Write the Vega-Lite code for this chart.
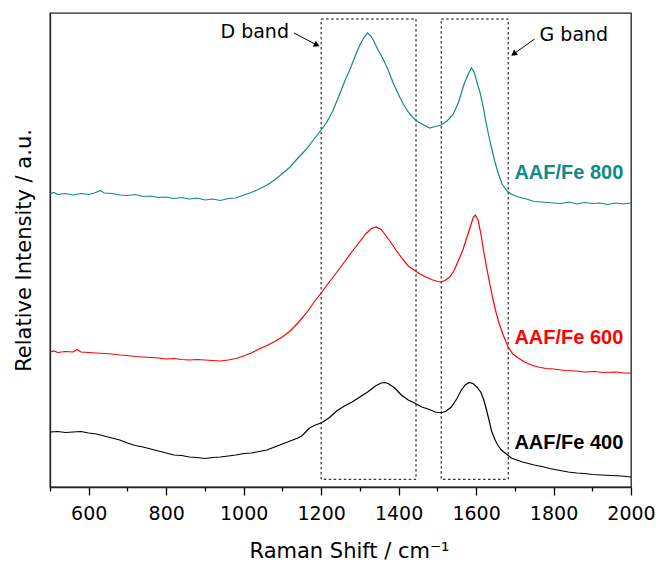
{
  "$schema": "https://vega.github.io/schema/vega-lite/v6.json",
  "width": 581,
  "height": 474,
  "autosize": "none",
  "padding": {"left": 50, "top": 13, "right": 28, "bottom": 75},
  "config": {
    "view": {"stroke": "#222222", "strokeWidth": 1.3},
    "font": "DejaVu Sans"
  },
  "resolve": {"axis": {"x": "independent"}},
  "datasets": {
    "spectra": [
      {"shift": 500, "intensity": 293, "sample": "AAF/Fe 800"},
      {"shift": 510, "intensity": 294.5, "sample": "AAF/Fe 800"},
      {"shift": 520, "intensity": 292.5, "sample": "AAF/Fe 800"},
      {"shift": 540, "intensity": 293.5, "sample": "AAF/Fe 800"},
      {"shift": 560, "intensity": 292, "sample": "AAF/Fe 800"},
      {"shift": 580, "intensity": 293.5, "sample": "AAF/Fe 800"},
      {"shift": 600, "intensity": 292.5, "sample": "AAF/Fe 800"},
      {"shift": 615, "intensity": 294, "sample": "AAF/Fe 800"},
      {"shift": 630, "intensity": 296.5, "sample": "AAF/Fe 800"},
      {"shift": 640, "intensity": 294, "sample": "AAF/Fe 800"},
      {"shift": 660, "intensity": 293.5, "sample": "AAF/Fe 800"},
      {"shift": 680, "intensity": 292, "sample": "AAF/Fe 800"},
      {"shift": 700, "intensity": 291.5, "sample": "AAF/Fe 800"},
      {"shift": 720, "intensity": 292.5, "sample": "AAF/Fe 800"},
      {"shift": 740, "intensity": 290.5, "sample": "AAF/Fe 800"},
      {"shift": 760, "intensity": 291, "sample": "AAF/Fe 800"},
      {"shift": 780, "intensity": 289.5, "sample": "AAF/Fe 800"},
      {"shift": 800, "intensity": 290, "sample": "AAF/Fe 800"},
      {"shift": 820, "intensity": 288.5, "sample": "AAF/Fe 800"},
      {"shift": 840, "intensity": 289.5, "sample": "AAF/Fe 800"},
      {"shift": 860, "intensity": 288, "sample": "AAF/Fe 800"},
      {"shift": 880, "intensity": 289, "sample": "AAF/Fe 800"},
      {"shift": 900, "intensity": 287, "sample": "AAF/Fe 800"},
      {"shift": 920, "intensity": 288, "sample": "AAF/Fe 800"},
      {"shift": 940, "intensity": 286.5, "sample": "AAF/Fe 800"},
      {"shift": 960, "intensity": 288.5, "sample": "AAF/Fe 800"},
      {"shift": 980, "intensity": 289, "sample": "AAF/Fe 800"},
      {"shift": 1000, "intensity": 292, "sample": "AAF/Fe 800"},
      {"shift": 1020, "intensity": 294.5, "sample": "AAF/Fe 800"},
      {"shift": 1040, "intensity": 298, "sample": "AAF/Fe 800"},
      {"shift": 1060, "intensity": 302, "sample": "AAF/Fe 800"},
      {"shift": 1080, "intensity": 307, "sample": "AAF/Fe 800"},
      {"shift": 1100, "intensity": 313.5, "sample": "AAF/Fe 800"},
      {"shift": 1120, "intensity": 320, "sample": "AAF/Fe 800"},
      {"shift": 1140, "intensity": 329, "sample": "AAF/Fe 800"},
      {"shift": 1160, "intensity": 337, "sample": "AAF/Fe 800"},
      {"shift": 1180, "intensity": 347, "sample": "AAF/Fe 800"},
      {"shift": 1200, "intensity": 357, "sample": "AAF/Fe 800"},
      {"shift": 1215, "intensity": 365, "sample": "AAF/Fe 800"},
      {"shift": 1230, "intensity": 376, "sample": "AAF/Fe 800"},
      {"shift": 1245, "intensity": 390, "sample": "AAF/Fe 800"},
      {"shift": 1260, "intensity": 405, "sample": "AAF/Fe 800"},
      {"shift": 1275, "intensity": 418, "sample": "AAF/Fe 800"},
      {"shift": 1290, "intensity": 433, "sample": "AAF/Fe 800"},
      {"shift": 1300, "intensity": 442, "sample": "AAF/Fe 800"},
      {"shift": 1310, "intensity": 449, "sample": "AAF/Fe 800"},
      {"shift": 1320, "intensity": 454, "sample": "AAF/Fe 800"},
      {"shift": 1328, "intensity": 451, "sample": "AAF/Fe 800"},
      {"shift": 1336, "intensity": 446, "sample": "AAF/Fe 800"},
      {"shift": 1347, "intensity": 437, "sample": "AAF/Fe 800"},
      {"shift": 1360, "intensity": 428, "sample": "AAF/Fe 800"},
      {"shift": 1373, "intensity": 417, "sample": "AAF/Fe 800"},
      {"shift": 1386, "intensity": 404, "sample": "AAF/Fe 800"},
      {"shift": 1399, "intensity": 393, "sample": "AAF/Fe 800"},
      {"shift": 1412, "intensity": 383, "sample": "AAF/Fe 800"},
      {"shift": 1425, "intensity": 375, "sample": "AAF/Fe 800"},
      {"shift": 1438, "intensity": 369, "sample": "AAF/Fe 800"},
      {"shift": 1451, "intensity": 365, "sample": "AAF/Fe 800"},
      {"shift": 1465, "intensity": 362, "sample": "AAF/Fe 800"},
      {"shift": 1480, "intensity": 359, "sample": "AAF/Fe 800"},
      {"shift": 1495, "intensity": 360.5, "sample": "AAF/Fe 800"},
      {"shift": 1510, "intensity": 362, "sample": "AAF/Fe 800"},
      {"shift": 1525, "intensity": 366, "sample": "AAF/Fe 800"},
      {"shift": 1540, "intensity": 372, "sample": "AAF/Fe 800"},
      {"shift": 1554, "intensity": 384, "sample": "AAF/Fe 800"},
      {"shift": 1562, "intensity": 394, "sample": "AAF/Fe 800"},
      {"shift": 1570, "intensity": 404, "sample": "AAF/Fe 800"},
      {"shift": 1580, "intensity": 413, "sample": "AAF/Fe 800"},
      {"shift": 1588, "intensity": 419, "sample": "AAF/Fe 800"},
      {"shift": 1595, "intensity": 415, "sample": "AAF/Fe 800"},
      {"shift": 1602, "intensity": 405, "sample": "AAF/Fe 800"},
      {"shift": 1610, "intensity": 395, "sample": "AAF/Fe 800"},
      {"shift": 1618, "intensity": 381, "sample": "AAF/Fe 800"},
      {"shift": 1626, "intensity": 364, "sample": "AAF/Fe 800"},
      {"shift": 1633, "intensity": 351, "sample": "AAF/Fe 800"},
      {"shift": 1640, "intensity": 339, "sample": "AAF/Fe 800"},
      {"shift": 1648, "intensity": 326, "sample": "AAF/Fe 800"},
      {"shift": 1657, "intensity": 314, "sample": "AAF/Fe 800"},
      {"shift": 1667, "intensity": 303, "sample": "AAF/Fe 800"},
      {"shift": 1678, "intensity": 297, "sample": "AAF/Fe 800"},
      {"shift": 1690, "intensity": 293, "sample": "AAF/Fe 800"},
      {"shift": 1709, "intensity": 290, "sample": "AAF/Fe 800"},
      {"shift": 1730, "intensity": 288, "sample": "AAF/Fe 800"},
      {"shift": 1750, "intensity": 285.5, "sample": "AAF/Fe 800"},
      {"shift": 1770, "intensity": 285, "sample": "AAF/Fe 800"},
      {"shift": 1800, "intensity": 284, "sample": "AAF/Fe 800"},
      {"shift": 1820, "intensity": 283.5, "sample": "AAF/Fe 800"},
      {"shift": 1840, "intensity": 285, "sample": "AAF/Fe 800"},
      {"shift": 1860, "intensity": 283, "sample": "AAF/Fe 800"},
      {"shift": 1880, "intensity": 284.5, "sample": "AAF/Fe 800"},
      {"shift": 1900, "intensity": 283.5, "sample": "AAF/Fe 800"},
      {"shift": 1920, "intensity": 284, "sample": "AAF/Fe 800"},
      {"shift": 1940, "intensity": 282.5, "sample": "AAF/Fe 800"},
      {"shift": 1960, "intensity": 284, "sample": "AAF/Fe 800"},
      {"shift": 1980, "intensity": 283, "sample": "AAF/Fe 800"},
      {"shift": 2000, "intensity": 284, "sample": "AAF/Fe 800"},

      {"shift": 500, "intensity": 135, "sample": "AAF/Fe 600"},
      {"shift": 510, "intensity": 136, "sample": "AAF/Fe 600"},
      {"shift": 520, "intensity": 134.5, "sample": "AAF/Fe 600"},
      {"shift": 540, "intensity": 135.5, "sample": "AAF/Fe 600"},
      {"shift": 560, "intensity": 135, "sample": "AAF/Fe 600"},
      {"shift": 570, "intensity": 137.5, "sample": "AAF/Fe 600"},
      {"shift": 580, "intensity": 135, "sample": "AAF/Fe 600"},
      {"shift": 600, "intensity": 134.5, "sample": "AAF/Fe 600"},
      {"shift": 620, "intensity": 134, "sample": "AAF/Fe 600"},
      {"shift": 640, "intensity": 133.5, "sample": "AAF/Fe 600"},
      {"shift": 660, "intensity": 133, "sample": "AAF/Fe 600"},
      {"shift": 680, "intensity": 132, "sample": "AAF/Fe 600"},
      {"shift": 700, "intensity": 131.5, "sample": "AAF/Fe 600"},
      {"shift": 720, "intensity": 130.5, "sample": "AAF/Fe 600"},
      {"shift": 740, "intensity": 130, "sample": "AAF/Fe 600"},
      {"shift": 760, "intensity": 129.5, "sample": "AAF/Fe 600"},
      {"shift": 780, "intensity": 129, "sample": "AAF/Fe 600"},
      {"shift": 800, "intensity": 128, "sample": "AAF/Fe 600"},
      {"shift": 820, "intensity": 128.5, "sample": "AAF/Fe 600"},
      {"shift": 840, "intensity": 127.5, "sample": "AAF/Fe 600"},
      {"shift": 860, "intensity": 127, "sample": "AAF/Fe 600"},
      {"shift": 880, "intensity": 127.5, "sample": "AAF/Fe 600"},
      {"shift": 900, "intensity": 127, "sample": "AAF/Fe 600"},
      {"shift": 920, "intensity": 126.5, "sample": "AAF/Fe 600"},
      {"shift": 940, "intensity": 126, "sample": "AAF/Fe 600"},
      {"shift": 960, "intensity": 127, "sample": "AAF/Fe 600"},
      {"shift": 980, "intensity": 128.5, "sample": "AAF/Fe 600"},
      {"shift": 1000, "intensity": 131, "sample": "AAF/Fe 600"},
      {"shift": 1020, "intensity": 134, "sample": "AAF/Fe 600"},
      {"shift": 1040, "intensity": 138, "sample": "AAF/Fe 600"},
      {"shift": 1060, "intensity": 141.5, "sample": "AAF/Fe 600"},
      {"shift": 1080, "intensity": 145.5, "sample": "AAF/Fe 600"},
      {"shift": 1100, "intensity": 150, "sample": "AAF/Fe 600"},
      {"shift": 1120, "intensity": 156, "sample": "AAF/Fe 600"},
      {"shift": 1140, "intensity": 164, "sample": "AAF/Fe 600"},
      {"shift": 1160, "intensity": 173, "sample": "AAF/Fe 600"},
      {"shift": 1180, "intensity": 184, "sample": "AAF/Fe 600"},
      {"shift": 1200, "intensity": 194, "sample": "AAF/Fe 600"},
      {"shift": 1220, "intensity": 204.5, "sample": "AAF/Fe 600"},
      {"shift": 1240, "intensity": 214.5, "sample": "AAF/Fe 600"},
      {"shift": 1260, "intensity": 225, "sample": "AAF/Fe 600"},
      {"shift": 1280, "intensity": 235.5, "sample": "AAF/Fe 600"},
      {"shift": 1300, "intensity": 245.5, "sample": "AAF/Fe 600"},
      {"shift": 1315, "intensity": 253, "sample": "AAF/Fe 600"},
      {"shift": 1330, "intensity": 258.5, "sample": "AAF/Fe 600"},
      {"shift": 1342, "intensity": 260, "sample": "AAF/Fe 600"},
      {"shift": 1355, "intensity": 257.5, "sample": "AAF/Fe 600"},
      {"shift": 1368, "intensity": 251, "sample": "AAF/Fe 600"},
      {"shift": 1381, "intensity": 244, "sample": "AAF/Fe 600"},
      {"shift": 1395, "intensity": 236, "sample": "AAF/Fe 600"},
      {"shift": 1410, "intensity": 228, "sample": "AAF/Fe 600"},
      {"shift": 1425, "intensity": 221, "sample": "AAF/Fe 600"},
      {"shift": 1440, "intensity": 217, "sample": "AAF/Fe 600"},
      {"shift": 1455, "intensity": 213, "sample": "AAF/Fe 600"},
      {"shift": 1470, "intensity": 210, "sample": "AAF/Fe 600"},
      {"shift": 1485, "intensity": 207.5, "sample": "AAF/Fe 600"},
      {"shift": 1500, "intensity": 205.5, "sample": "AAF/Fe 600"},
      {"shift": 1510, "intensity": 205, "sample": "AAF/Fe 600"},
      {"shift": 1520, "intensity": 206.5, "sample": "AAF/Fe 600"},
      {"shift": 1532, "intensity": 210, "sample": "AAF/Fe 600"},
      {"shift": 1544, "intensity": 217, "sample": "AAF/Fe 600"},
      {"shift": 1555, "intensity": 227, "sample": "AAF/Fe 600"},
      {"shift": 1565, "intensity": 236, "sample": "AAF/Fe 600"},
      {"shift": 1575, "intensity": 248, "sample": "AAF/Fe 600"},
      {"shift": 1585, "intensity": 260, "sample": "AAF/Fe 600"},
      {"shift": 1593, "intensity": 270, "sample": "AAF/Fe 600"},
      {"shift": 1598, "intensity": 272, "sample": "AAF/Fe 600"},
      {"shift": 1605, "intensity": 267, "sample": "AAF/Fe 600"},
      {"shift": 1612, "intensity": 254, "sample": "AAF/Fe 600"},
      {"shift": 1620, "intensity": 235, "sample": "AAF/Fe 600"},
      {"shift": 1628, "intensity": 218, "sample": "AAF/Fe 600"},
      {"shift": 1636, "intensity": 202, "sample": "AAF/Fe 600"},
      {"shift": 1644, "intensity": 187, "sample": "AAF/Fe 600"},
      {"shift": 1652, "intensity": 174, "sample": "AAF/Fe 600"},
      {"shift": 1660, "intensity": 163, "sample": "AAF/Fe 600"},
      {"shift": 1670, "intensity": 152, "sample": "AAF/Fe 600"},
      {"shift": 1683, "intensity": 140, "sample": "AAF/Fe 600"},
      {"shift": 1695, "intensity": 133, "sample": "AAF/Fe 600"},
      {"shift": 1709, "intensity": 129, "sample": "AAF/Fe 600"},
      {"shift": 1725, "intensity": 125, "sample": "AAF/Fe 600"},
      {"shift": 1743, "intensity": 122, "sample": "AAF/Fe 600"},
      {"shift": 1760, "intensity": 120, "sample": "AAF/Fe 600"},
      {"shift": 1780, "intensity": 118.5, "sample": "AAF/Fe 600"},
      {"shift": 1800, "intensity": 118, "sample": "AAF/Fe 600"},
      {"shift": 1830, "intensity": 116.5, "sample": "AAF/Fe 600"},
      {"shift": 1860, "intensity": 116, "sample": "AAF/Fe 600"},
      {"shift": 1880, "intensity": 115, "sample": "AAF/Fe 600"},
      {"shift": 1906, "intensity": 115.5, "sample": "AAF/Fe 600"},
      {"shift": 1930, "intensity": 114.5, "sample": "AAF/Fe 600"},
      {"shift": 1960, "intensity": 115, "sample": "AAF/Fe 600"},
      {"shift": 1980, "intensity": 114, "sample": "AAF/Fe 600"},
      {"shift": 2000, "intensity": 114, "sample": "AAF/Fe 600"},

      {"shift": 500, "intensity": 55, "sample": "AAF/Fe 400"},
      {"shift": 520, "intensity": 55.5, "sample": "AAF/Fe 400"},
      {"shift": 540, "intensity": 54.5, "sample": "AAF/Fe 400"},
      {"shift": 560, "intensity": 55, "sample": "AAF/Fe 400"},
      {"shift": 580, "intensity": 55.5, "sample": "AAF/Fe 400"},
      {"shift": 600, "intensity": 54, "sample": "AAF/Fe 400"},
      {"shift": 620, "intensity": 53, "sample": "AAF/Fe 400"},
      {"shift": 640, "intensity": 51, "sample": "AAF/Fe 400"},
      {"shift": 660, "intensity": 49, "sample": "AAF/Fe 400"},
      {"shift": 680, "intensity": 47, "sample": "AAF/Fe 400"},
      {"shift": 700, "intensity": 44, "sample": "AAF/Fe 400"},
      {"shift": 720, "intensity": 41.5, "sample": "AAF/Fe 400"},
      {"shift": 740, "intensity": 40, "sample": "AAF/Fe 400"},
      {"shift": 760, "intensity": 38, "sample": "AAF/Fe 400"},
      {"shift": 780, "intensity": 36, "sample": "AAF/Fe 400"},
      {"shift": 800, "intensity": 34, "sample": "AAF/Fe 400"},
      {"shift": 820, "intensity": 32, "sample": "AAF/Fe 400"},
      {"shift": 840, "intensity": 31.5, "sample": "AAF/Fe 400"},
      {"shift": 860, "intensity": 30, "sample": "AAF/Fe 400"},
      {"shift": 880, "intensity": 29.5, "sample": "AAF/Fe 400"},
      {"shift": 900, "intensity": 28.5, "sample": "AAF/Fe 400"},
      {"shift": 920, "intensity": 29.5, "sample": "AAF/Fe 400"},
      {"shift": 940, "intensity": 30, "sample": "AAF/Fe 400"},
      {"shift": 960, "intensity": 31, "sample": "AAF/Fe 400"},
      {"shift": 980, "intensity": 32, "sample": "AAF/Fe 400"},
      {"shift": 1000, "intensity": 33.5, "sample": "AAF/Fe 400"},
      {"shift": 1020, "intensity": 34, "sample": "AAF/Fe 400"},
      {"shift": 1040, "intensity": 35.5, "sample": "AAF/Fe 400"},
      {"shift": 1060, "intensity": 37, "sample": "AAF/Fe 400"},
      {"shift": 1080, "intensity": 40, "sample": "AAF/Fe 400"},
      {"shift": 1100, "intensity": 43, "sample": "AAF/Fe 400"},
      {"shift": 1120, "intensity": 46, "sample": "AAF/Fe 400"},
      {"shift": 1140, "intensity": 49, "sample": "AAF/Fe 400"},
      {"shift": 1150, "intensity": 51, "sample": "AAF/Fe 400"},
      {"shift": 1160, "intensity": 55, "sample": "AAF/Fe 400"},
      {"shift": 1170, "intensity": 59, "sample": "AAF/Fe 400"},
      {"shift": 1185, "intensity": 62, "sample": "AAF/Fe 400"},
      {"shift": 1200, "intensity": 64, "sample": "AAF/Fe 400"},
      {"shift": 1220, "intensity": 69, "sample": "AAF/Fe 400"},
      {"shift": 1240, "intensity": 76, "sample": "AAF/Fe 400"},
      {"shift": 1260, "intensity": 81, "sample": "AAF/Fe 400"},
      {"shift": 1280, "intensity": 85, "sample": "AAF/Fe 400"},
      {"shift": 1300, "intensity": 90, "sample": "AAF/Fe 400"},
      {"shift": 1320, "intensity": 95, "sample": "AAF/Fe 400"},
      {"shift": 1340, "intensity": 101, "sample": "AAF/Fe 400"},
      {"shift": 1355, "intensity": 104, "sample": "AAF/Fe 400"},
      {"shift": 1365, "intensity": 104.5, "sample": "AAF/Fe 400"},
      {"shift": 1375, "intensity": 103, "sample": "AAF/Fe 400"},
      {"shift": 1390, "intensity": 99, "sample": "AAF/Fe 400"},
      {"shift": 1407, "intensity": 92, "sample": "AAF/Fe 400"},
      {"shift": 1425, "intensity": 87, "sample": "AAF/Fe 400"},
      {"shift": 1441, "intensity": 84, "sample": "AAF/Fe 400"},
      {"shift": 1460, "intensity": 80, "sample": "AAF/Fe 400"},
      {"shift": 1476, "intensity": 78, "sample": "AAF/Fe 400"},
      {"shift": 1495, "intensity": 75, "sample": "AAF/Fe 400"},
      {"shift": 1510, "intensity": 74, "sample": "AAF/Fe 400"},
      {"shift": 1523, "intensity": 76, "sample": "AAF/Fe 400"},
      {"shift": 1536, "intensity": 80, "sample": "AAF/Fe 400"},
      {"shift": 1550, "intensity": 88, "sample": "AAF/Fe 400"},
      {"shift": 1562, "intensity": 97, "sample": "AAF/Fe 400"},
      {"shift": 1572, "intensity": 102, "sample": "AAF/Fe 400"},
      {"shift": 1582, "intensity": 104.5, "sample": "AAF/Fe 400"},
      {"shift": 1592, "intensity": 103.5, "sample": "AAF/Fe 400"},
      {"shift": 1602, "intensity": 100, "sample": "AAF/Fe 400"},
      {"shift": 1612, "intensity": 95, "sample": "AAF/Fe 400"},
      {"shift": 1620, "intensity": 87, "sample": "AAF/Fe 400"},
      {"shift": 1627, "intensity": 77, "sample": "AAF/Fe 400"},
      {"shift": 1634, "intensity": 66, "sample": "AAF/Fe 400"},
      {"shift": 1640, "intensity": 56, "sample": "AAF/Fe 400"},
      {"shift": 1648, "intensity": 48, "sample": "AAF/Fe 400"},
      {"shift": 1656, "intensity": 42, "sample": "AAF/Fe 400"},
      {"shift": 1665, "intensity": 37, "sample": "AAF/Fe 400"},
      {"shift": 1678, "intensity": 33, "sample": "AAF/Fe 400"},
      {"shift": 1691, "intensity": 29, "sample": "AAF/Fe 400"},
      {"shift": 1705, "intensity": 27, "sample": "AAF/Fe 400"},
      {"shift": 1720, "intensity": 25, "sample": "AAF/Fe 400"},
      {"shift": 1735, "intensity": 23.5, "sample": "AAF/Fe 400"},
      {"shift": 1750, "intensity": 22, "sample": "AAF/Fe 400"},
      {"shift": 1770, "intensity": 20.5, "sample": "AAF/Fe 400"},
      {"shift": 1790, "intensity": 18.5, "sample": "AAF/Fe 400"},
      {"shift": 1810, "intensity": 17, "sample": "AAF/Fe 400"},
      {"shift": 1838, "intensity": 15, "sample": "AAF/Fe 400"},
      {"shift": 1860, "intensity": 14, "sample": "AAF/Fe 400"},
      {"shift": 1880, "intensity": 13.5, "sample": "AAF/Fe 400"},
      {"shift": 1900, "intensity": 12.5, "sample": "AAF/Fe 400"},
      {"shift": 1924, "intensity": 12, "sample": "AAF/Fe 400"},
      {"shift": 1950, "intensity": 11.5, "sample": "AAF/Fe 400"},
      {"shift": 1975, "intensity": 11, "sample": "AAF/Fe 400"},
      {"shift": 2000, "intensity": 10, "sample": "AAF/Fe 400"}
    ],
    "boxes": [
      {"band": "D", "from": 1200, "to": 1445, "low": 7.7, "high": 468},
      {"band": "G", "from": 1510, "to": 1683, "low": 7.7, "high": 468}
    ],
    "labels": [
      {"sample": "AAF/Fe 800", "shift": 1699, "intensity": 314},
      {"sample": "AAF/Fe 600", "shift": 1699, "intensity": 149},
      {"sample": "AAF/Fe 400", "shift": 1699, "intensity": 44}
    ],
    "arrows": [
      {"band": "D", "x0": 1130, "y0": 454, "x1": 1189, "y1": 442},
      {"band": "G", "x0": 1751, "y0": 448, "x1": 1697, "y1": 433}
    ]
  },
  "layer": [
    {
      "data": {"name": "boxes"},
      "mark": {"type": "rect", "fill": null, "filled": false, "stroke": "#000000", "strokeWidth": 1, "strokeDash": [2.5, 2.5]},
      "encoding": {
        "x": {"field": "from", "type": "quantitative", "scale": {"domain": [500, 2000], "nice": false, "zero": false},
          "axis": {
            "orient": "bottom",
            "values": [600, 800, 1000, 1200, 1400, 1600, 1800, 2000],
            "format": "d",
            "tickSize": 8,
            "tickColor": "#000000",
            "tickWidth": 1.3,
            "domainColor": "#222222",
            "domainWidth": 1.3,
            "labelFontSize": 19,
            "labelColor": "#000000",
            "labelPadding": 9,
            "labelFlush": false,
            "labelOverlap": false,
            "grid": false,
            "title": "Raman Shift / cm⁻¹",
            "titleFontSize": 21,
            "titleFontWeight": "normal",
            "titleColor": "#000000",
            "titleX": 299,
            "titleY": 70,
            "titleAlign": "center",
            "titleBaseline": "alphabetic"
          }
        },
        "x2": {"field": "to"},
        "y": {"field": "low", "type": "quantitative", "scale": {"domain": [0, 474], "nice": false, "zero": false},
          "axis": {
            "labels": false,
            "ticks": false,
            "grid": false,
            "domainColor": "#222222",
            "domainWidth": 1.3,
            "title": "Relative Intensity / a.u.",
            "titleFontSize": 21,
            "titleFontWeight": "normal",
            "titleColor": "#000000",
            "titleX": -20,
            "titleY": 237,
            "titleAlign": "center",
            "titleBaseline": "alphabetic"
          }
        },
        "y2": {"field": "high"}
      }
    },
    {
      "data": {"name": "spectra"},
      "mark": {"type": "line", "strokeWidth": 1.2},
      "encoding": {
        "x": {"field": "shift", "type": "quantitative",
          "axis": {
            "orient": "bottom",
            "values": [500, 700, 900, 1100, 1300, 1500, 1700, 1900],
            "labels": false,
            "domain": false,
            "grid": false,
            "tickSize": 4,
            "tickColor": "#000000",
            "tickWidth": 1.3,
            "title": null
          }
        },
        "y": {"field": "intensity", "type": "quantitative"},
        "color": {"field": "sample", "type": "nominal",
          "scale": {"domain": ["AAF/Fe 800", "AAF/Fe 600", "AAF/Fe 400"], "range": ["#0f8a86", "#ff0000", "#000000"]},
          "legend": null},
        "detail": {"field": "sample"}
      }
    },
    {
      "data": {"name": "labels"},
      "mark": {"type": "text", "font": "Liberation Sans", "fontWeight": "bold", "fontSize": 20, "align": "left", "baseline": "middle"},
      "encoding": {
        "x": {"field": "shift", "type": "quantitative", "axis": null},
        "y": {"field": "intensity", "type": "quantitative"},
        "text": {"field": "sample"},
        "color": {"field": "sample", "type": "nominal", "legend": null}
      }
    },
    {
      "data": {"name": "arrows"},
      "mark": {"type": "rule", "color": "#000000", "strokeWidth": 1},
      "encoding": {
        "x": {"field": "x0", "type": "quantitative", "axis": null},
        "y": {"field": "y0", "type": "quantitative"},
        "x2": {"field": "x1"},
        "y2": {"field": "y1"}
      }
    },
    {
      "data": {"name": "arrows"},
      "transform": [{"filter": "datum.band === 'D'"}],
      "mark": {"type": "point", "shape": "triangle-up", "filled": true, "color": "#000000", "size": 45, "angle": 117.5, "opacity": 1},
      "encoding": {
        "x": {"field": "x1", "type": "quantitative", "axis": null},
        "y": {"field": "y1", "type": "quantitative"}
      }
    },
    {
      "data": {"name": "arrows"},
      "transform": [{"filter": "datum.band === 'G'"}],
      "mark": {"type": "point", "shape": "triangle-up", "filled": true, "color": "#000000", "size": 45, "angle": 234.5, "opacity": 1},
      "encoding": {
        "x": {"field": "x1", "type": "quantitative", "axis": null},
        "y": {"field": "y1", "type": "quantitative"}
      }
    },
    {
      "data": {"values": [{"text": "D band", "shift": 1117, "intensity": 455}]},
      "mark": {"type": "text", "fontSize": 19, "align": "right", "baseline": "middle", "color": "#000000"},
      "encoding": {
        "x": {"field": "shift", "type": "quantitative", "axis": null},
        "y": {"field": "intensity", "type": "quantitative"},
        "text": {"field": "text"}
      }
    },
    {
      "data": {"values": [{"text": "G band", "shift": 1764, "intensity": 452}]},
      "mark": {"type": "text", "fontSize": 19, "align": "left", "baseline": "middle", "color": "#000000"},
      "encoding": {
        "x": {"field": "shift", "type": "quantitative", "axis": null},
        "y": {"field": "intensity", "type": "quantitative"},
        "text": {"field": "text"}
      }
    }
  ]
}
